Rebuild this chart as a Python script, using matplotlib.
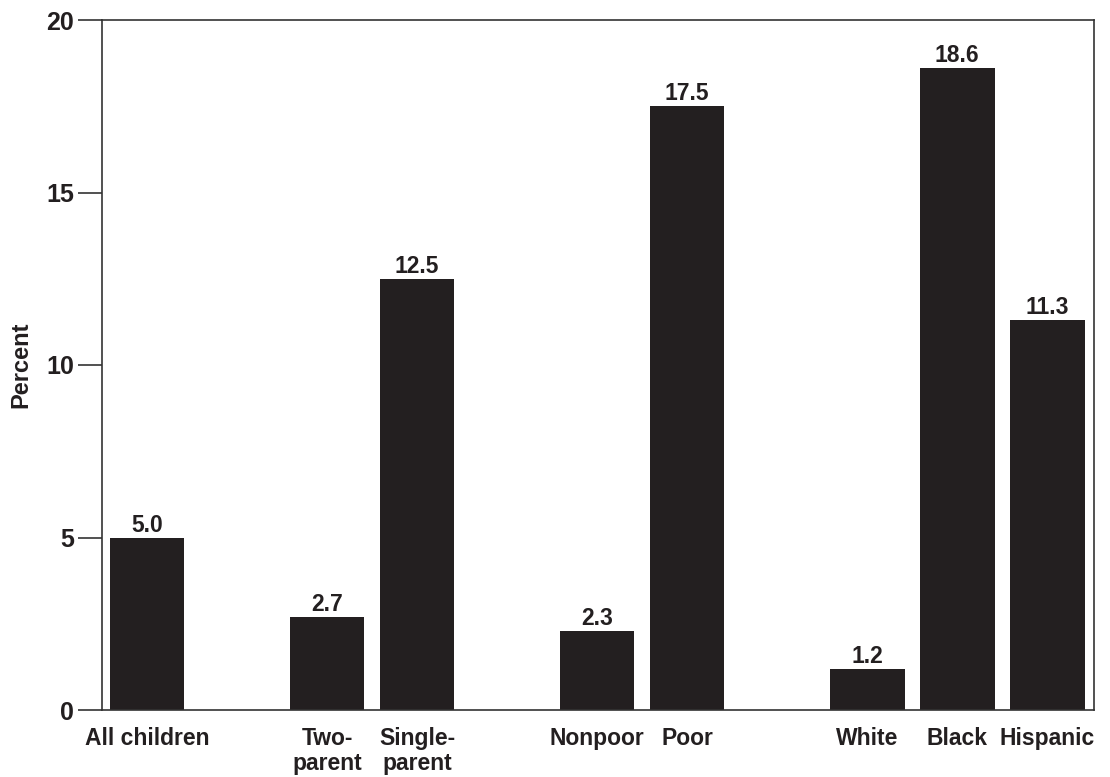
import matplotlib
matplotlib.use('Agg')
import matplotlib.pyplot as plt

plt.rcParams['font.family'] = ['Liberation Sans', 'DejaVu Sans']
plt.rcParams['font.weight'] = 'bold'

# data
labels = ['All children', 'Two-\nparent', 'Single-\nparent', 'Nonpoor', 'Poor',
          'White', 'Black', 'Hispanic']
values = [5.0, 2.7, 12.5, 2.3, 17.5, 1.2, 18.6, 11.3]
positions = [0, 2, 3, 5, 6, 8, 9, 10]

BAR = '#231f20'

fig = plt.figure(figsize=(11.1, 7.77), dpi=100)
ax = fig.add_axes([102/1110, 67/777, 992/1110, 690/777])

bars = ax.bar(positions, values, width=0.83, color=BAR, edgecolor='none')
for x, v in zip(positions, values):
    ax.text(x, v + 0.17, f'{v:.1f}', ha='center', va='baseline',
            fontsize=16.5, fontweight='bold', color=BAR)

ax.set_xlim(-0.5, 10.52)
ax.set_ylim(0, 20)
ax.set_yticks([0, 5, 10, 15, 20])
ax.set_xticks(positions)
ax.set_xticklabels(labels, fontsize=16.5, fontweight='bold', color=BAR,
                   va='top', linespacing=1.12)
ax.tick_params(axis='x', length=0, pad=12)
ax.tick_params(axis='y', length=17, width=1.2, labelsize=18, pad=3,
               colors='#333333', labelcolor=BAR)
for lab in ax.get_yticklabels():
    lab.set_fontweight('bold')
for s in ax.spines.values():
    s.set_linewidth(1.2)
    s.set_color('#333333')

ax.set_ylabel('Percent', fontsize=17, fontweight='bold', color=BAR)
ax.yaxis.set_label_coords(-70/992, 0.5)

fig.savefig('out.png', dpi=100, facecolor='white')
